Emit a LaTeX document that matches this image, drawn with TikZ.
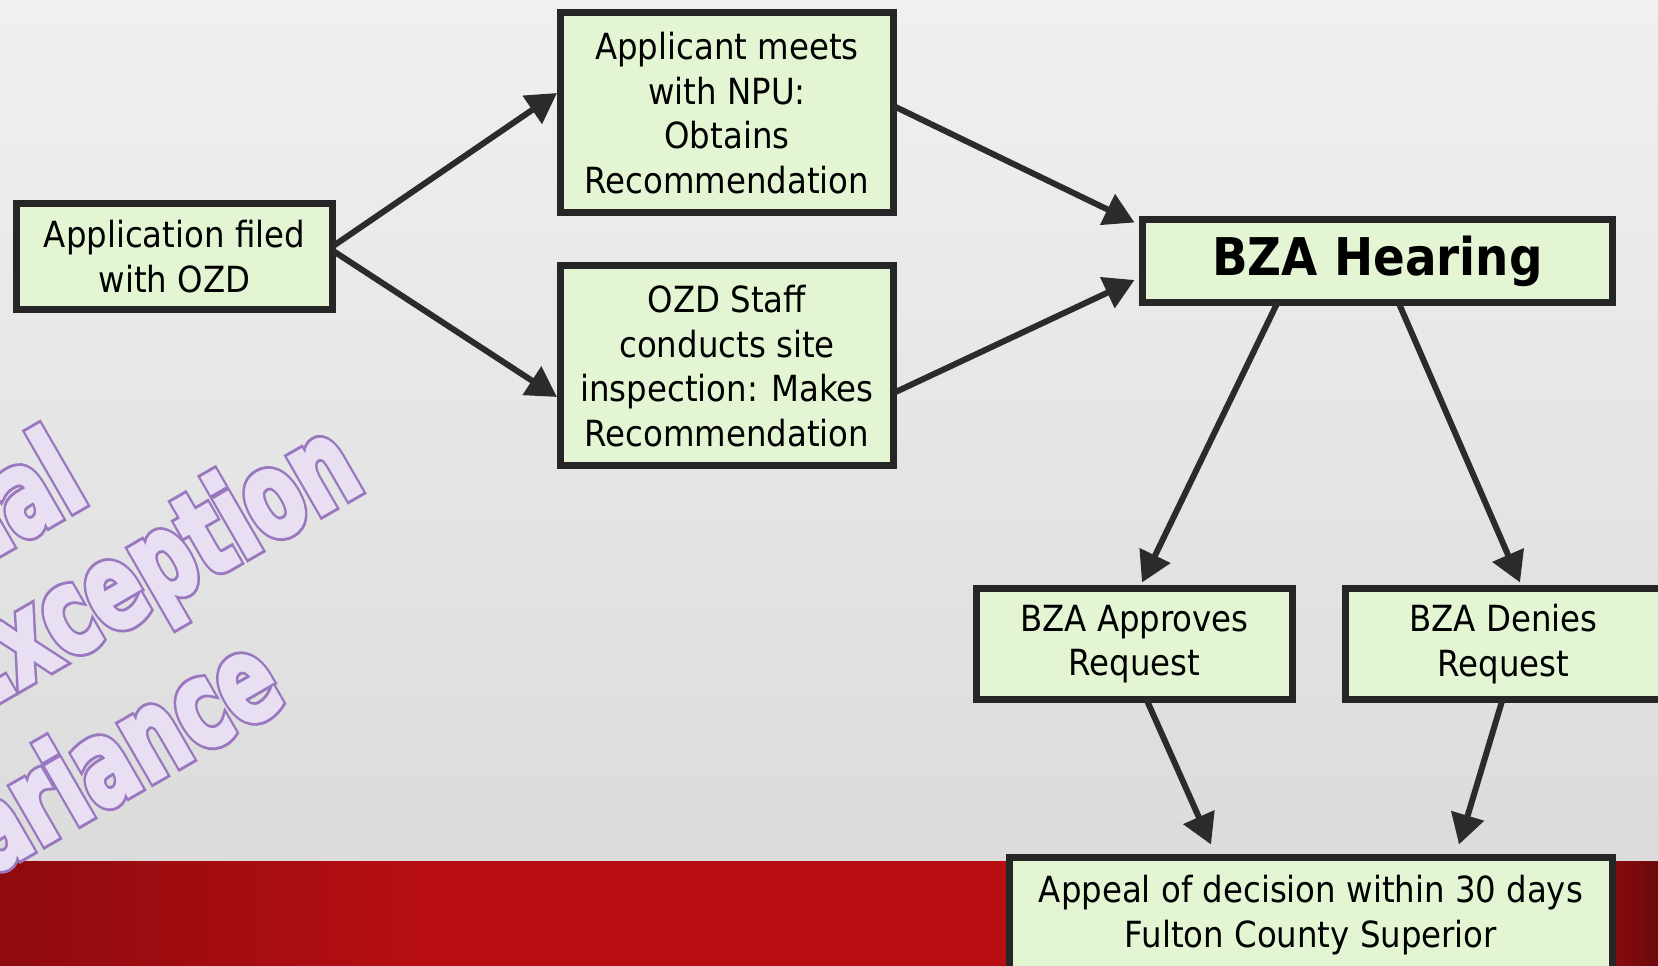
\documentclass[tikz,border=0pt]{standalone}
\usepackage{fontspec}
\setmainfont{DejaVu Sans Condensed}
\newfontfamily\artfill{DejaVu Sans Condensed}[UprightFont=* Bold, FakeBold=3]
\newfontfamily\artline{DejaVu Sans Condensed}[UprightFont=* Bold, FakeBold=8]
\usepackage{tikz}
\usetikzlibrary{arrows.meta, positioning, calc}
\definecolor{boxfill}{HTML}{E3F5D2}
\definecolor{boxline}{HTML}{262626}
\definecolor{flowgray}{HTML}{2B2B2B}
\definecolor{bgtop}{HTML}{F0F0F0}
\definecolor{bgbot}{HTML}{D9D9D9}
\definecolor{bandred}{HTML}{B80E13}
\definecolor{bandleft}{HTML}{8E0B0E}
\definecolor{bandright}{HTML}{6A090B}
\definecolor{artedge}{HTML}{9A78BF}
\definecolor{artbody}{HTML}{E8DFF2}
\pgfdeclarehorizontalshading{bandshade}{100bp}{color(0bp)=(bandleft); color(25bp)=(bandleft);
  color(38bp)=(bandred); color(71.5bp)=(bandred); color(75bp)=(bandright); color(100bp)=(bandright)}
\tikzset{
  stage/.style={draw=boxline, line width=7pt, fill=boxfill, align=center, inner sep=0pt, outer sep=0pt,
    font=\fontsize{36}{44.5}\selectfont},
  hearing/.style={stage, font=\fontsize{52}{60}\selectfont\bfseries},
  flow/.style={-{Triangle[length=30pt, width=33pt]}, line width=6pt, color=flowgray},
  wordline/.style={inner sep=0pt, text=artedge, font=\artline\fontsize{92}{92}\selectfont, yscale=1.3, transform shape},
  wordfill/.style={wordline, text=artbody, font=\artfill\fontsize{92}{92}\selectfont},
}
\begin{document}
\begin{tikzpicture}[x=1pt, y=1pt]
  \useasboundingbox (0,0) rectangle (1658,966);
  \clip (0,0) rectangle (1658,966);
  \shade[top color=bgtop, bottom color=bgbot] (0,0) rectangle (1658,966);
  \shade[shading=bandshade] (0,0) rectangle (1658,104);

  \begin{scope}[shift={(-70,221)}, rotate=30]
    \foreach \txt/\px/\py/\nm in {Special/262/131/wsp, Exception/507/4/wex, Variance/332/-143/wva} {
      \node[wordline, anchor=base east] (\nm-edge) at (\px,\py) {\txt};
      \node[wordfill, anchor=base east] (\nm) at (\px,\py) {\txt};
    }
  \end{scope}

  \node[stage, minimum width=316pt, minimum height=106pt] (app) at (174.5,709.5) {Application filed\\with OZD};
  \node[stage, minimum width=333pt, minimum height=200pt, right=228pt of app, yshift=143.5pt] (npu)
    {Applicant meets\\with NPU:\\Obtains\\Recommendation};
  \node[stage, minimum width=333pt, minimum height=200pt, below=53pt of npu] (ozd)
    {OZD Staff\\conducts site\\inspection: Makes\\Recommendation};
  \node[hearing, minimum width=470pt, minimum height=83pt, right=249pt of npu, yshift=-148pt] (bza) {BZA Hearing};
  \node[stage, minimum width=316pt, minimum height=111pt, below=286pt of bza, xshift=-243pt] (appr) {BZA Approves\\Request};
  \node[stage, minimum width=317pt, minimum height=111pt, right=52.5pt of appr] (deny) {BZA Denies\\Request};
  \node[stage, minimum width=603pt, minimum height=115pt, below=158pt of appr, xshift=176.5pt] (appeal)
    {Appeal of decision within 30 days\\Fulton County Superior};

  \draw[flow] ($(app.east)+(0,10)$) -- ($(npu.west)+(-3.5,20)$);
  \draw[flow] ($(app.east)+(0,6)$) -- ($(ozd.west)+(-3.5,-31)$);
  \draw[flow] ($(npu.east)+(0,7)$) -- ($(bza.north west)+(-8,-3)$);
  \draw[flow] ($(ozd.east)+(0,-27)$) -- ($(bza.west)+(-8,-19)$);
  \draw[flow] ($(bza.south)+(-100,0)$) -- ($(appr.north)+(7.5,6)$);
  \draw[flow] ($(bza.south)+(21,0)$) -- ($(deny.north)+(16.5,6)$);
  \draw[flow] ($(appr.south)+(12,0)$) -- ($(appeal.north)+(-100,13)$);
  \draw[flow] ($(deny.south)+(-1,0)$) -- ($(appeal.north)+(148,13)$);
\end{tikzpicture}
\end{document}
